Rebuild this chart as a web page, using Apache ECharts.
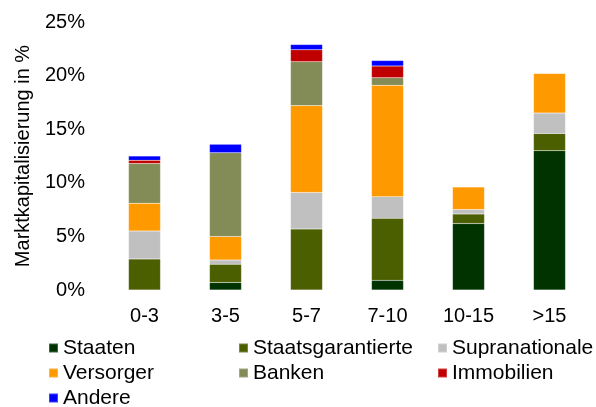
<!DOCTYPE html>
<html>
<head>
<meta charset="utf-8">
<script src="https://cdn.jsdelivr.net/npm/echarts@6/dist/echarts.min.js"></script>
<style>
  html, body { margin: 0; padding: 0; background: #fff; }
  #main { width: 596px; height: 407px; }
</style>
</head>
<body>
<div id="main"></div>
<script>
// Restlaufzeiten (Jahre)
var categories = ['0-3', '3-5', '5-7', '7-10', '10-15', '>15'];
var yTicks = [0, 5, 10, 15, 20, 25];

// Anteil in % je Sektor
var staaten           = ['-', 0.7, '-', 0.9, 6.2, 13.0];
var staatsgarantierte = [2.9, 1.7, 5.7, 5.8, 0.9, 1.6];
var supranationale    = [2.6, 0.4, 3.4, 2.0, 0.4, 1.9];
var versorger         = [2.6, 2.2, 8.1, 10.4, 2.1, 3.7];
var banken            = [3.7, 7.8, 4.1, 0.7, '-', '-'];
var immobilien        = [0.3, '-', 1.1, 1.1, '-', '-'];
var andere            = [0.4, 0.8, 0.5, 0.5, '-', '-'];

var seriesDefs = [
  { name: 'Staaten', data: staaten, color: '#003300' },
  { name: 'Staatsgarantierte', data: staatsgarantierte, color: '#4b5e00' },
  { name: 'Supranationale', data: supranationale, color: '#c0c0c0' },
  { name: 'Versorger', data: versorger, color: '#ff9900' },
  { name: 'Banken', data: banken, color: '#838b57' },
  { name: 'Immobilien', data: immobilien, color: '#c00000' },
  { name: 'Andere', data: andere, color: '#0000ff' }
];

var font = 'Liberation Sans, Arial, sans-serif';

// legend spots: [name, left, row]
var legendSpots = [
  ['Staaten', 48, 0], ['Staatsgarantierte', 238, 0], ['Supranationale', 437, 0],
  ['Versorger', 48, 1], ['Banken', 238, 1], ['Immobilien', 437, 1],
  ['Andere', 48, 2]
];
var rowCenters = [348, 373, 398];

var myChart = echarts.init(document.getElementById('main'));

var option = {
  animation: false,
  color: seriesDefs.map(function (s) { return s.color; }),
  grid: { left: 104, right: 6, top: 22, bottom: 117 },
  legend: legendSpots.map(function (l) {
    return {
      left: l[1],
      top: rowCenters[l[2]] - 11,
      padding: 0,
      data: [l[0]],
      icon: 'rect',
      itemWidth: 9,
      itemHeight: 9,
      selectedMode: false,
      textStyle: { fontFamily: font, fontSize: 21, lineHeight: 22, color: '#000' }
    };
  }),
  xAxis: {
    type: 'category',
    data: categories,
    axisLine: { show: false },
    axisTick: { show: false },
    axisLabel: { fontFamily: font, fontSize: 20, color: '#000', margin: 16 }
  },
  yAxis: {
    type: 'value',
    min: yTicks[0],
    max: yTicks[yTicks.length - 1],
    interval: 5,
    name: 'Marktkapitalisierung in %',
    nameLocation: 'middle',
    nameRotate: 90,
    nameGap: 71,
    nameTextStyle: { fontFamily: font, fontSize: 20, color: '#000' },
    splitLine: { show: false },
    axisLine: { show: false },
    axisTick: { show: false },
    axisLabel: { fontFamily: font, fontSize: 20, color: '#000', margin: 19, formatter: '{value}%' }
  },
  series: seriesDefs.map(function (s) {
    return {
      name: s.name,
      type: 'bar',
      stack: 'total',
      data: s.data,
      barWidth: 32,
      itemStyle: { color: s.color, borderColor: 'rgba(255,255,255,0.25)', borderWidth: 0.5 }
    };
  })
};
myChart.setOption(option);
</script>
</body>
</html>
